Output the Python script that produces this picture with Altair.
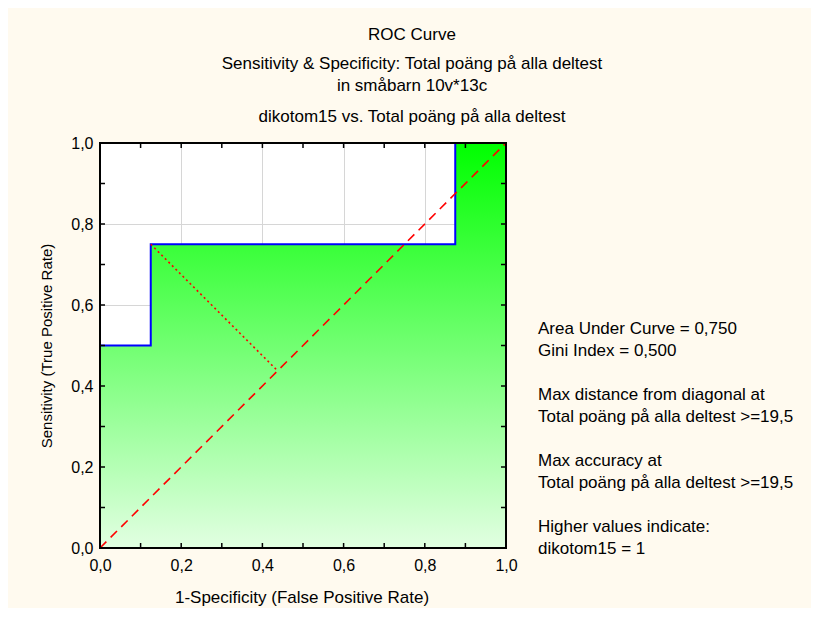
import altair as alt
import pandas as pd

# ---- data ----
fpr = [0.0, 0.0, 0.125, 0.125, 0.875, 0.875, 1.0]
tpr = [0.0, 0.5, 0.5, 0.75, 0.75, 1.0, 1.0]
diag_x = [0.0, 1.0]
diag_y = [0.0, 1.0]
maxdist_x = [0.125, 0.4375]
maxdist_y = [0.75, 0.4375]
tick_values = [0.0, 0.1, 0.2, 0.3, 0.4, 0.5, 0.6, 0.7, 0.8, 0.9, 1.0]
label_values = [0.0, 0.2, 0.4, 0.6, 0.8, 1.0]
title_lines = [
    "ROC Curve",
    "Sensitivity & Specificity: Total poäng på alla deltest",
    "in småbarn 10v*13c",
    "dikotom15 vs. Total poäng på alla deltest",
]
stats_lines = [
    "Area Under Curve = 0,750",
    "Gini Index = 0,500",
    "Max distance from diagonal at",
    "Total poäng på alla deltest >=19,5",
    "Max accuracy at",
    "Total poäng på alla deltest >=19,5",
    "Higher values indicate:",
    "dikotom15 = 1",
]
x_title = "1-Specificity  (False Positive Rate)"
y_title = "Sensitivity (True Positive Rate)"

# ---- layout / style ----
W, H = 406, 405
FONT = "Liberation Sans"
title_y = [35, 64, 86, 117]          # page y of title lines
stats_y = [329, 351, 395, 417, 461, 483, 527, 549]
PX, PY = 100, 143                    # page position of plot origin

roc_df = pd.DataFrame({"x": fpr, "y": tpr, "step": list(range(len(fpr)))})
line_df = roc_df.iloc[1:6]
diag_df = pd.DataFrame({"x": diag_x, "y": diag_y})
md_df = pd.DataFrame({"x": maxdist_x, "y": maxdist_y})
tick_df = pd.DataFrame({"x": tick_values, "y": tick_values})
one = pd.DataFrame({"a": [0]})

sx = alt.Scale(domain=[0, 1], nice=False, zero=False)
sy = alt.Scale(domain=[0, 1], nice=False, zero=False)
lab = "replace(format(datum.value, '.1f'), '.', ',')"

xax = alt.Axis(values=label_values, labelExpr=lab, ticks=False, domain=False,
               grid=True, gridColor="#d6d6d6", gridWidth=1, labelFont=FONT,
               labelFontSize=16, labelColor="black", labelPadding=9,
               labelFlush=False, title="")
yax = alt.Axis(values=label_values, labelExpr=lab, ticks=False, domain=False,
               grid=True, gridColor="#d6d6d6", gridWidth=1, labelFont=FONT,
               labelFontSize=16, labelColor="black", labelPadding=7,
               labelFlush=False, title="")

def X():
    return alt.X("x:Q", scale=sx, axis=xax)

def Y():
    return alt.Y("y:Q", scale=sy, axis=yax, stack=None)

grad = alt.Gradient(
    gradient="linear",
    stops=[alt.GradientStop(color="#e2ffe2", offset=0),
           alt.GradientStop(color="#00ff00", offset=1)],
    x1=1, x2=1, y1=1, y2=0,
)

area = alt.Chart(roc_df).mark_area(color=grad, opacity=1).encode(x=X(), y=Y())
line = alt.Chart(line_df).mark_line(color="#0000ff", strokeWidth=2).encode(
    x=X(), y=Y(), order="step:Q")
diag = alt.Chart(diag_df).mark_line(color="#ff0000", strokeWidth=1.6,
                                    strokeDash=[9, 6]).encode(x=X(), y=Y())
md = alt.Chart(md_df).mark_line(color="#ff0000", strokeWidth=1.6,
                                strokeDash=[2, 3]).encode(x=X(), y=Y())

tk = dict(color="black", strokeWidth=1.5)
t_bottom = alt.Chart(tick_df).mark_rule(**tk).encode(
    x=X(), y=alt.value(H), y2=alt.value(H - 5))
t_top = alt.Chart(tick_df).mark_rule(**tk).encode(
    x=X(), y=alt.value(0), y2=alt.value(5))
t_left = alt.Chart(tick_df).mark_rule(**tk).encode(
    y=Y(), x=alt.value(0), x2=alt.value(5))
t_right = alt.Chart(tick_df).mark_rule(**tk).encode(
    y=Y(), x=alt.value(W), x2=alt.value(W - 5))

frame = alt.Chart(one).mark_rect(fillOpacity=0, stroke="black", strokeWidth=2).encode(
    x=alt.value(0), x2=alt.value(W), y=alt.value(0), y2=alt.value(H))

texts = []
for t, yy in zip(title_lines, title_y):
    texts.append(alt.Chart(one).mark_text(
        text=t, font=FONT, fontSize=17, color="black", align="center",
        baseline="middle").encode(x=alt.value(412 - PX), y=alt.value(yy - PY)))
for t, yy in zip(stats_lines, stats_y):
    texts.append(alt.Chart(one).mark_text(
        text=t, font=FONT, fontSize=17, color="black", align="left",
        baseline="middle").encode(x=alt.value(538 - PX), y=alt.value(yy - PY)))
texts.append(alt.Chart(one).mark_text(
    text=x_title, font=FONT, fontSize=17, color="black", align="center",
    baseline="middle").encode(x=alt.value(302 - PX), y=alt.value(598 - PY)))
texts.append(alt.Chart(one).mark_text(
    text=y_title, font=FONT, fontSize=15, color="black", align="center",
    baseline="middle", angle=270).encode(x=alt.value(47 - PX), y=alt.value(346 - PY)))

chart = alt.layer(area, line, diag, md, t_bottom, t_top, t_left, t_right, frame,
                  *texts).properties(
    width=W, height=H, autosize="none",
    padding={"left": 92, "top": 135, "right": 305, "bottom": 60},
    background="#fffaef",
).configure_view(fill="white", stroke="transparent")

chart.save("out.html", embed_options={"renderer": "svg", "actions": False})
